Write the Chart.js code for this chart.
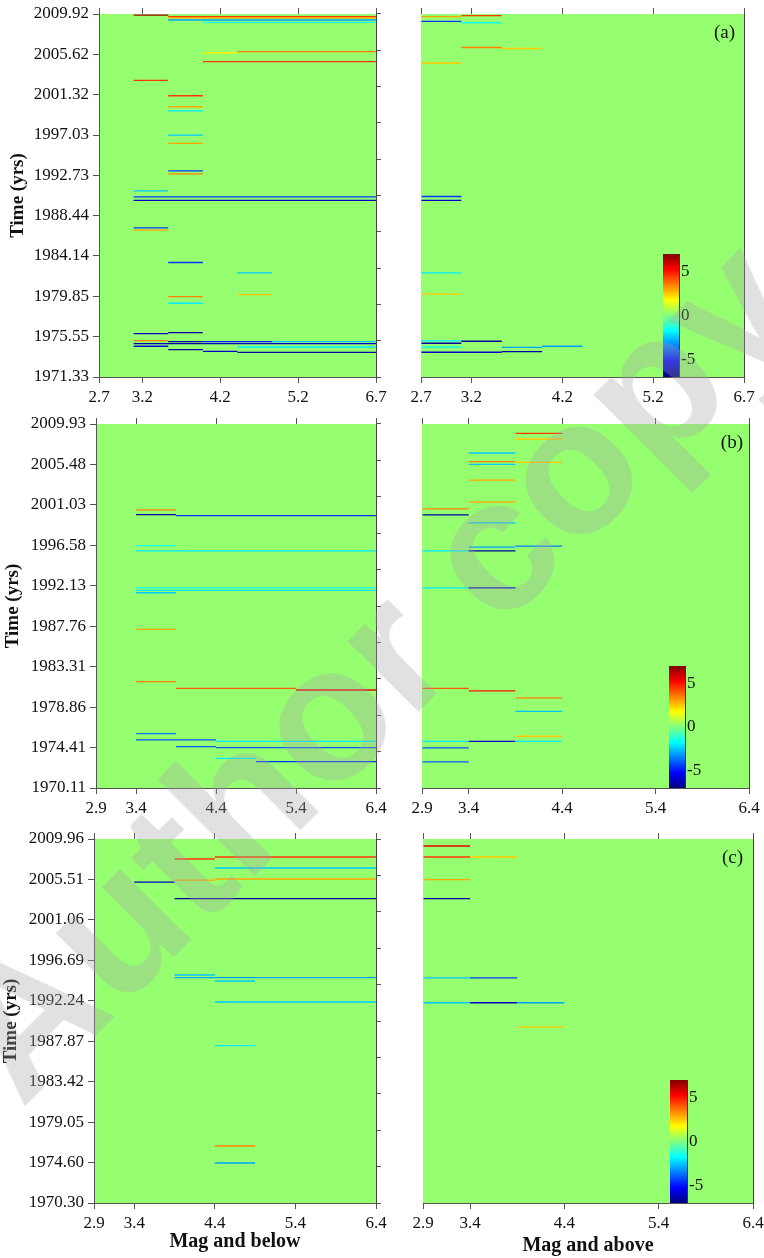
<!DOCTYPE html>
<html>
<head>
<meta charset="utf-8">
<script src="https://cdn.jsdelivr.net/npm/chart.js@4.4.1/dist/chart.umd.min.js"></script>
<style>
body { margin:0; background:#fff; width:764px; height:1258px; position:relative; overflow:hidden; }
canvas { position:absolute; }
#wm { position:absolute; left:370px; top:667px; transform:translate(-50%,-50%) rotate(-45deg);
      font:bold 190px 'Liberation Sans'; line-height:1; color:rgba(165,165,165,0.33);
      white-space:nowrap; pointer-events:none; }
</style>
</head>
<body>
<canvas id="a1"></canvas><canvas id="a2"></canvas>
<canvas id="b1"></canvas><canvas id="b2"></canvas>
<canvas id="c1"></canvas><canvas id="c2"></canvas>
<canvas id="cbA"></canvas><canvas id="cbB"></canvas><canvas id="cbC"></canvas>
<div id="wm">Author copy</div>
<script>
/* colour bar range and ticks */
var cMin = -7, cMax = 7;
var cbTicks = [-5, 0, 5];

/* x tick labels and where they sit (in magnitude bins) */
var magLabA = ['2.7', '3.2', '4.2', '5.2', '6.7'];
var magPosA = [0, 1.25, 3.5, 5.75, 8];
var magLabBC = ['2.9', '3.4', '4.4', '5.4', '6.4'];
var magPosBC = [0, 1, 3, 5, 7];

/* time tick labels, bottom to top */
var timeLabA = ['1971.33','1975.55','1979.85','1984.14','1988.44','1992.73','1997.03','2001.32','2005.62','2009.92'];
var timeLabB = ['1970.11','1974.41','1978.86','1983.31','1987.76','1992.13','1996.58','2001.03','2005.48','2009.93'];
var timeLabC = ['1970.30','1974.60','1979.05','1983.42','1987.87','1992.24','1996.69','2001.06','2005.51','2009.96'];

/* segments: [time (yrs), from bin, to bin, value] */
var belowA = [
    [2009.81,1,2,6.5],[2009.65,2,8,4.5],[2009.52,2,8,3],[2009.28,2,8,-3],[2009.02,3,8,-1.5],
    [2005.91,4,8,3.5],[2005.80,3,4,2],[2004.85,3,8,4.5],[2002.87,1,2,4.5],[2001.23,2,3,4.5],
    [2000.06,2,3,3],[1999.63,2,3,-2],[1997.05,2,3,-2.5],[1996.16,2,3,3],[1993.25,2,3,-4.5],
    [1992.93,2,3,3.5],[1991.12,1,2,-2.5],[1990.48,1,8,-4.5],[1990.10,1,8,-6],[1987.18,1,2,-4.5],
    [1986.94,1,2,3],[1983.50,2,3,-4.5],[1982.39,4,5,-2.5],[1980.09,4,5,2.5],[1979.88,2,3,3.5],
    [1979.17,2,3,-2],[1975.94,1,2,-6],[1976.05,2,3,-6.5],[1975.20,1,2,3.5],[1975.10,2,3,-6.5],
    [1975.10,3,5,-5],[1975.10,5,8,-2.5],[1974.88,1,3,-6.5],[1974.88,3,8,-6],[1974.60,1,2,-5.5],
    [1974.52,4,8,-2],[1974.24,2,3,-6.5],[1974.06,3,4,-6],[1973.94,4,8,-6.5]
];
var aboveA = [
    [2009.74,1,2,4.5],[2009.65,0,1,3],[2009.14,0,1,-4.5],[2008.99,1,2,-1.5],[2006.36,1,2,3.5],
    [2006.25,2,3,2.5],[2004.71,0,1,2.5],[1990.52,0,1,-4.5],[1990.10,0,1,-6],[1982.39,0,1,-2],
    [1980.13,0,1,2.5],[1975.16,0,1,-2],[1975.13,1,2,-6.5],[1974.92,0,1,-6.5],[1974.52,0,1,-1.5],
    [1974.49,2,3,-3],[1974.60,3,4,-3],[1974.03,2,3,-6.5],[1973.96,0,2,-6]
];
var belowB = [
    [2000.53,1,2,3.5],[2000.02,1,2,-6.5],[1999.91,2,7,-4.5],[1996.63,1,2,-1.5],[1996.06,1,7,-2],
    [1992.01,1,7,-1.5],[1991.72,1,7,-2],[1991.47,1,2,-2.5],[1987.46,1,2,3],[1981.74,1,2,3.5],
    [1981.01,2,5,4],[1980.83,5,7,5.5],[1976.06,1,2,-3.5],[1975.37,1,3,-4],[1975.22,3,7,-2],
    [1974.64,2,3,-4],[1974.53,3,7,-4],[1973.36,3,4,-2],[1973.00,4,7,-4.5]
];
var aboveB = [
    [2008.91,2,3,4.5],[2008.29,2,3,2.5],[2006.76,1,2,-2.5],[2005.81,1,2,3.5],[2005.74,2,3,2.5],
    [2005.52,1,2,-2.5],[2003.78,1,2,3],[2001.38,1,2,3],[2000.64,0,1,3.5],[1999.99,0,1,-6.5],
    [1999.12,1,2,-2.5],[1996.57,2,3,-3.5],[1996.46,1,2,-3],[1996.06,0,1,-2],[1996.06,1,2,-6.5],
    [1992.01,0,1,-2],[1992.01,1,2,-6],[1981.01,0,1,4],[1980.73,1,2,5],[1979.96,2,3,3.5],
    [1978.50,2,3,-2.5],[1975.77,2,3,2.5],[1975.22,0,1,-2],[1975.22,1,2,-6],[1975.22,2,3,-2],
    [1974.50,0,1,-4],[1972.97,0,1,-4]
];
var belowC = [
    [2008.00,3,7,4.5],[2007.78,2,3,4.5],[2006.80,3,7,-2.5],[2005.60,3,7,3],[2005.49,2,3,3],
    [2005.27,1,2,-6],[2003.46,2,7,-6.5],[1995.14,2,3,-2.5],[1994.85,2,7,-3],[1994.49,3,4,-2.5],
    [1992.20,3,7,-2.5],[1987.44,3,4,-2],[1976.51,3,4,3.5],[1974.66,3,4,-3]
];
var aboveC = [
    [2009.20,0,1,5.5],[2008.00,0,1,4.5],[2008.00,1,2,2.5],[2005.53,0,1,3],[2003.46,0,1,-6.5],
    [1994.82,0,1,-2.5],[1994.82,1,2,-4.5],[1992.12,0,1,-2.5],[1992.12,1,2,-6],[1992.12,2,3,-3],
    [1989.47,2,3,2.5]
];

var tickFont = {family: 'Liberation Serif', size: 17};
var titleFont = {family: 'Liberation Serif', size: 19, weight: 'bold'};
var axisColor = '#555';

/* jet colour map */
function jet(v){
    var t = (v - cMin) / (cMax - cMin);
    function ch(k){ return Math.round(255 * Math.max(0, Math.min(1, 1.5 - Math.abs(4 * t - k)))); }
    return 'rgb(' + ch(3) + ',' + ch(2) + ',' + ch(1) + ')';
}

var plotBg = {
    id: 'plotBg',
    beforeDraw: function(chart){
        var a = chart.chartArea, c = chart.ctx;
        c.save();
        c.fillStyle = 'rgb(150,255,112)';
        c.fillRect(a.left, a.top, a.right - a.left, a.bottom - a.top);
        c.restore();
    }
};

function makePanel(id, lay, segs, nBins, magPos, magLab, timeLab){
    var box = lay.box;
    var isLeft = lay.side == 'L';
    var cLeft = isLeft ? 0 : 380;
    var cW = isLeft ? 400 : 384;
    var cTop = Math.max(0, box[1] - 14);
    var cH = box[3] + lay.xh - cTop;
    var rightW = isLeft ? 6 : cLeft + cW - box[2];
    var cv = document.getElementById(id);
    cv.width = cW;
    cv.height = cH;
    cv.style.left = cLeft + 'px';
    cv.style.top = cTop + 'px';

    var tMin = parseFloat(timeLab[0]), tMax = parseFloat(timeLab[timeLab.length - 1]);
    var timeTicks = function(s){
        s.ticks = timeLab.map(function(l, i){ return {value: tMin + i * (tMax - tMin) / (timeLab.length - 1)}; });
    };
    var magTicks = function(s){
        s.ticks = magPos.map(function(v){ return {value: v}; });
    };
    var fix = function(s, w, h){
        if (w != null) s.width = w;
        if (h != null) s.height = h;
        s.paddingTop = 0; s.paddingBottom = 0; s.paddingLeft = 0; s.paddingRight = 0;
    };
    var tag = {
        id: 'panelTag',
        afterDatasetsDraw: function(chart){
            if (!lay.tag) return;
            var c = chart.ctx;
            c.save();
            c.font = '19px "Liberation Serif"';
            c.fillStyle = '#111';
            c.textAlign = 'right';
            c.textBaseline = 'middle';
            c.fillText(lay.tag[0], lay.tag[1] - cLeft, lay.tag[2] - cTop);
            c.restore();
        }
    };

    new Chart(cv, {
        type: 'bar',
        data: {
            datasets: [{
                data: segs.map(function(s){ return {y: s[0], x: [s[1], s[2]]}; }),
                backgroundColor: segs.map(function(s){ return jet(s[3]); }),
                barThickness: 1.3,
                inflateAmount: 0,
                borderWidth: 0
            }]
        },
        options: {
            indexAxis: 'y',
            responsive: false,
            animation: false,
            layout: {padding: {
                left: isLeft ? 0 : box[0] - cLeft,
                top: box[1] - 7 - cTop,
                right: isLeft ? cW - box[2] - rightW : 0,
                bottom: 0
            }},
            plugins: {legend: {display: false}, tooltip: {enabled: false}},
            scales: {
                x: {
                    type: 'linear', position: 'bottom', min: 0, max: nBins, offset: false,
                    afterBuildTicks: magTicks,
                    afterFit: function(s){ fix(s, null, lay.xh); },
                    ticks: {autoSkip: false, maxRotation: 0, color: '#111', font: tickFont, padding: 4,
                        callback: function(v, i){ return magLab[i]; }},
                    grid: {drawOnChartArea: false, tickLength: 6, color: axisColor},
                    border: {display: true, color: axisColor},
                    title: {display: !!lay.xTitle, text: lay.xTitle || '', color: '#111',
                        font: {family: 'Liberation Serif', size: 20, weight: 'bold'},
                        padding: {top: 0, bottom: lay.xPad || 0}}
                },
                xTop: {
                    type: 'linear', position: 'top', min: 0, max: nBins, offset: false,
                    afterBuildTicks: magTicks,
                    afterFit: function(s){ fix(s, null, 7); },
                    ticks: {display: false},
                    grid: {drawOnChartArea: false, tickLength: 6, color: axisColor},
                    border: {display: false}
                },
                y: {
                    type: 'linear', position: 'left', min: tMin, max: tMax, offset: false,
                    display: isLeft,
                    afterBuildTicks: timeTicks,
                    afterFit: function(s){ fix(s, isLeft ? box[0] - cLeft : 0, null); },
                    ticks: {autoSkip: false, color: '#111', font: tickFont, padding: 4,
                        callback: function(v, i){ return timeLab[i]; }},
                    grid: {drawOnChartArea: false, offset: false, tickLength: 6, color: axisColor},
                    border: {display: true, color: axisColor},
                    title: {display: true, text: 'Time (yrs)', color: '#111', font: titleFont,
                        padding: {top: lay.yPad || 0, bottom: 0}}
                },
                yRight: {
                    type: 'linear', position: 'right', min: tMin, max: tMax,
                    afterBuildTicks: timeTicks,
                    afterFit: function(s){ fix(s, rightW, null); },
                    ticks: {display: false},
                    grid: {drawOnChartArea: false, drawTicks: isLeft, tickLength: 5, color: axisColor},
                    border: {display: true, color: '#444'}
                }
            }
        },
        plugins: [plotBg, tag]
    });
}

function makeColorbar(id, rect){
    var cv = document.getElementById(id);
    var w = rect[2] - rect[0], h = rect[3] - rect[1];
    cv.width = w + 26;
    cv.height = h;
    cv.style.left = rect[0] + 'px';
    cv.style.top = rect[1] + 'px';
    new Chart(cv, {
        type: 'bar',
        data: {
            labels: ['c'],
            datasets: [{
                data: [[cMin, cMax]],
                barPercentage: 1,
                categoryPercentage: 1,
                borderWidth: 0,
                backgroundColor: function(ctx){
                    var a = ctx.chart.chartArea;
                    if (!a) return 'rgba(0,0,0,0)';
                    var g = ctx.chart.ctx.createLinearGradient(0, a.bottom, 0, a.top);
                    [0, 0.125, 0.375, 0.625, 0.875, 1].forEach(function(p){
                        g.addColorStop(p, jet(cMin + p * (cMax - cMin)));
                    });
                    return g;
                }
            }]
        },
        options: {
            responsive: false,
            animation: false,
            plugins: {legend: {display: false}, tooltip: {enabled: false}},
            scales: {
                x: {display: false},
                y: {
                    position: 'right', min: cMin, max: cMax,
                    afterBuildTicks: function(s){ s.ticks = cbTicks.map(function(v){ return {value: v}; }); },
                    afterFit: function(s){ s.width = 26; s.paddingTop = 0; s.paddingBottom = 0; },
                    ticks: {color: '#111', font: tickFont, padding: 2},
                    grid: {display: false, drawTicks: false},
                    border: {display: true, color: '#333'}
                }
            }
        }
    });
}

makePanel('a1', {side: 'L', box: [99, 14, 376, 377], xh: 32, yPad: 6.9}, belowA, 8, magPosA, magLabA, timeLabA);
makePanel('a2', {side: 'R', box: [421, 14, 744, 377], xh: 32, tag: ['(a)', 735, 33.5]}, aboveA, 8, magPosA, magLabA, timeLabA);
makePanel('b1', {side: 'L', box: [96, 424, 376, 788], xh: 32, yPad: 1.9}, belowB, 7, magPosBC, magLabBC, timeLabB);
makePanel('b2', {side: 'R', box: [422, 424, 749, 788], xh: 32, tag: ['(b)', 743, 443.5]}, aboveB, 7, magPosBC, magLabBC, timeLabB);
makePanel('c1', {side: 'L', box: [94, 839, 376, 1203], xh: 55, yPad: 0, xTitle: 'Mag and below', xPad: 4.2}, belowC, 7, magPosBC, magLabBC, timeLabC);
makePanel('c2', {side: 'R', box: [423, 839, 753, 1203], xh: 55, tag: ['(c)', 743, 858.5], xTitle: 'Mag and above', xPad: 0}, aboveC, 7, magPosBC, magLabBC, timeLabC);

makeColorbar('cbA', [663, 254, 679, 377]);
makeColorbar('cbB', [669, 666, 685, 788]);
makeColorbar('cbC', [670, 1080, 687, 1203]);
</script>
</body>
</html>
